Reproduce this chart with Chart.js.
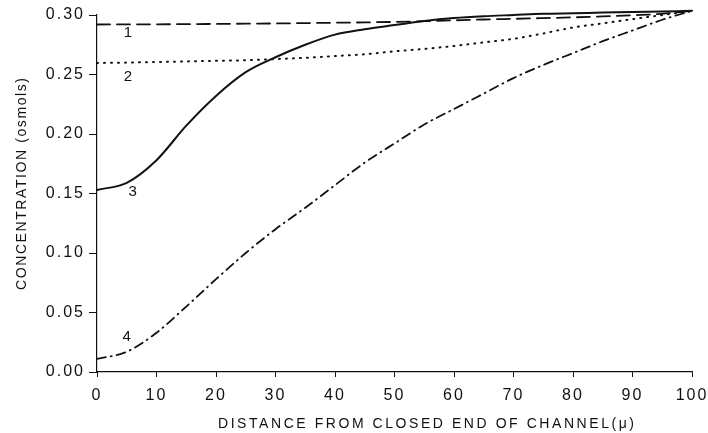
<!DOCTYPE html>
<html>
<head>
<meta charset="utf-8">
<script src="https://cdn.jsdelivr.net/npm/chart.js"></script>
<style>
  html, body { margin: 0; padding: 0; background: #fff; }
  #wrap { width: 708px; height: 433px; }
</style>
</head>
<body>
<div id="wrap"><canvas id="c"></canvas></div>
<script>
// distance from closed end (µ) and concentration (osmols) for each curve
const distance = [0, 5, 10, 15, 20, 25, 30, 35, 40, 45, 50, 55, 60, 65, 70, 75, 80, 85, 90, 95, 100];
const curve1 = [0.2920, 0.2921, 0.2922, 0.2923, 0.2925, 0.2927, 0.2929, 0.2932, 0.2935, 0.2938, 0.2942,
  0.2948, 0.2955, 0.2962, 0.2968, 0.2974, 0.2980, 0.2988, 0.2998, 0.3010, 0.3035];
const curve2 = [0.2597, 0.2600, 0.2605, 0.2610, 0.2615, 0.2620, 0.2630, 0.2640, 0.2655, 0.2670, 0.2695,
  0.2715, 0.2740, 0.2770, 0.2800, 0.2845, 0.2895, 0.2930, 0.2965, 0.3000, 0.3035];
const curve3 = [0.153, 0.159, 0.178, 0.207, 0.232, 0.252, 0.2645, 0.275, 0.2835, 0.288, 0.2915,
  0.295, 0.2975, 0.299, 0.300, 0.301, 0.3015, 0.302, 0.3025, 0.303, 0.3035];
const curve4 = [0.011, 0.017, 0.033, 0.055, 0.078, 0.100, 0.120, 0.138, 0.157, 0.176, 0.192,
  0.208, 0.221, 0.234, 0.247, 0.258, 0.268, 0.278, 0.287, 0.296, 0.3035];

// curve number labels, placed in data units
const curveNames = ['1', '2', '3', '4'];
const nameX = [5.2, 5.2, 6.0, 5.0];
const nameY = [0.2849, 0.248, 0.1513, 0.0294];

const xTitle = 'DISTANCE FROM CLOSED END OF CHANNEL(\u03bc)';
const yTitle = 'CONCENTRATION (osmols)';

const ink = '#111';
const font = '"Liberation Sans", Arial, sans-serif';

function spacedText(ctx, text, x, y, width) {
  ctx.letterSpacing = '0px';
  const w = ctx.measureText(text).width;
  const sp = (width - w) / (text.length - 1);
  ctx.letterSpacing = sp + 'px';
  ctx.textAlign = 'left';
  ctx.fillText(text, x - width / 2, y);
}

const decor = {
  id: 'decor',
  beforeDraw(chart) {
    const ctx = chart.ctx;
    ctx.save();
    ctx.fillStyle = '#fff';
    ctx.fillRect(0, 0, chart.width, chart.height);
    ctx.restore();
    ctx.letterSpacing = '2px';
  },
  afterDraw(chart) {
    const { ctx, chartArea: a, scales } = chart;
    ctx.save();
    ctx.fillStyle = ink;
    ctx.font = '15px ' + font;
    ctx.textBaseline = 'middle';
    curveNames.forEach((n, i) => {
      ctx.letterSpacing = '0px';
      ctx.textAlign = 'center';
      ctx.fillText(n, scales.x.getPixelForValue(nameX[i]), scales.y.getPixelForValue(nameY[i]));
    });
    ctx.font = '14px ' + font;
    spacedText(ctx, xTitle, a.left + 329, a.bottom + 52, 416);
    ctx.translate(a.left - 75, a.top + 169);
    ctx.rotate(-Math.PI / 2);
    spacedText(ctx, yTitle, 0, 0, 212);
    ctx.restore();
  }
};

const line = (data, dash, width) => ({
  data: distance.map((d, i) => ({ x: d, y: data[i] })),
  borderColor: ink,
  borderWidth: width,
  borderDash: dash,
  borderCapStyle: 'round',
  pointRadius: 0,
  cubicInterpolationMode: 'monotone',
  clip: false,
  fill: false
});

new Chart(document.getElementById('c'), {
  type: 'line',
  data: {
    datasets: [
      line(curve1, [13, 7], 1.8),
      line(curve2, [1, 6], 2),
      line(curve3, [], 2),
      line(curve4, [9, 5, 1, 5], 1.8)
    ]
  },
  options: {
    responsive: true,
    maintainAspectRatio: false,
    animation: false,
    layout: { padding: { top: 15, right: 16, left: 0, bottom: 0 } },
    plugins: { legend: { display: false }, tooltip: { enabled: false } },
    scales: {
      x: {
        type: 'linear', min: 0, max: 100,
        afterFit: (s) => { s.height = 61; s.paddingLeft = 0; s.paddingRight = 0; },
        border: { display: true, color: ink, width: 1.2 },
        grid: { drawOnChartArea: false, drawTicks: true, tickLength: 5, color: ink },
        ticks: { stepSize: 10, padding: 9, color: ink, maxRotation: 0, font: { family: font, size: 16 } }
      },
      y: {
        min: 0, max: 0.3,
        afterFit: (s) => { s.width = 97; s.paddingTop = 0; s.paddingBottom = 0; },
        border: { display: true, color: ink, width: 1.2 },
        grid: { drawOnChartArea: false, drawTicks: true, tickLength: 8, color: ink },
        ticks: {
          stepSize: 0.05, padding: 4, color: ink, font: { family: font, size: 16 },
          callback: (v) => v.toFixed(2)
        }
      }
    }
  },
  plugins: [decor]
});
</script>
</body>
</html>
